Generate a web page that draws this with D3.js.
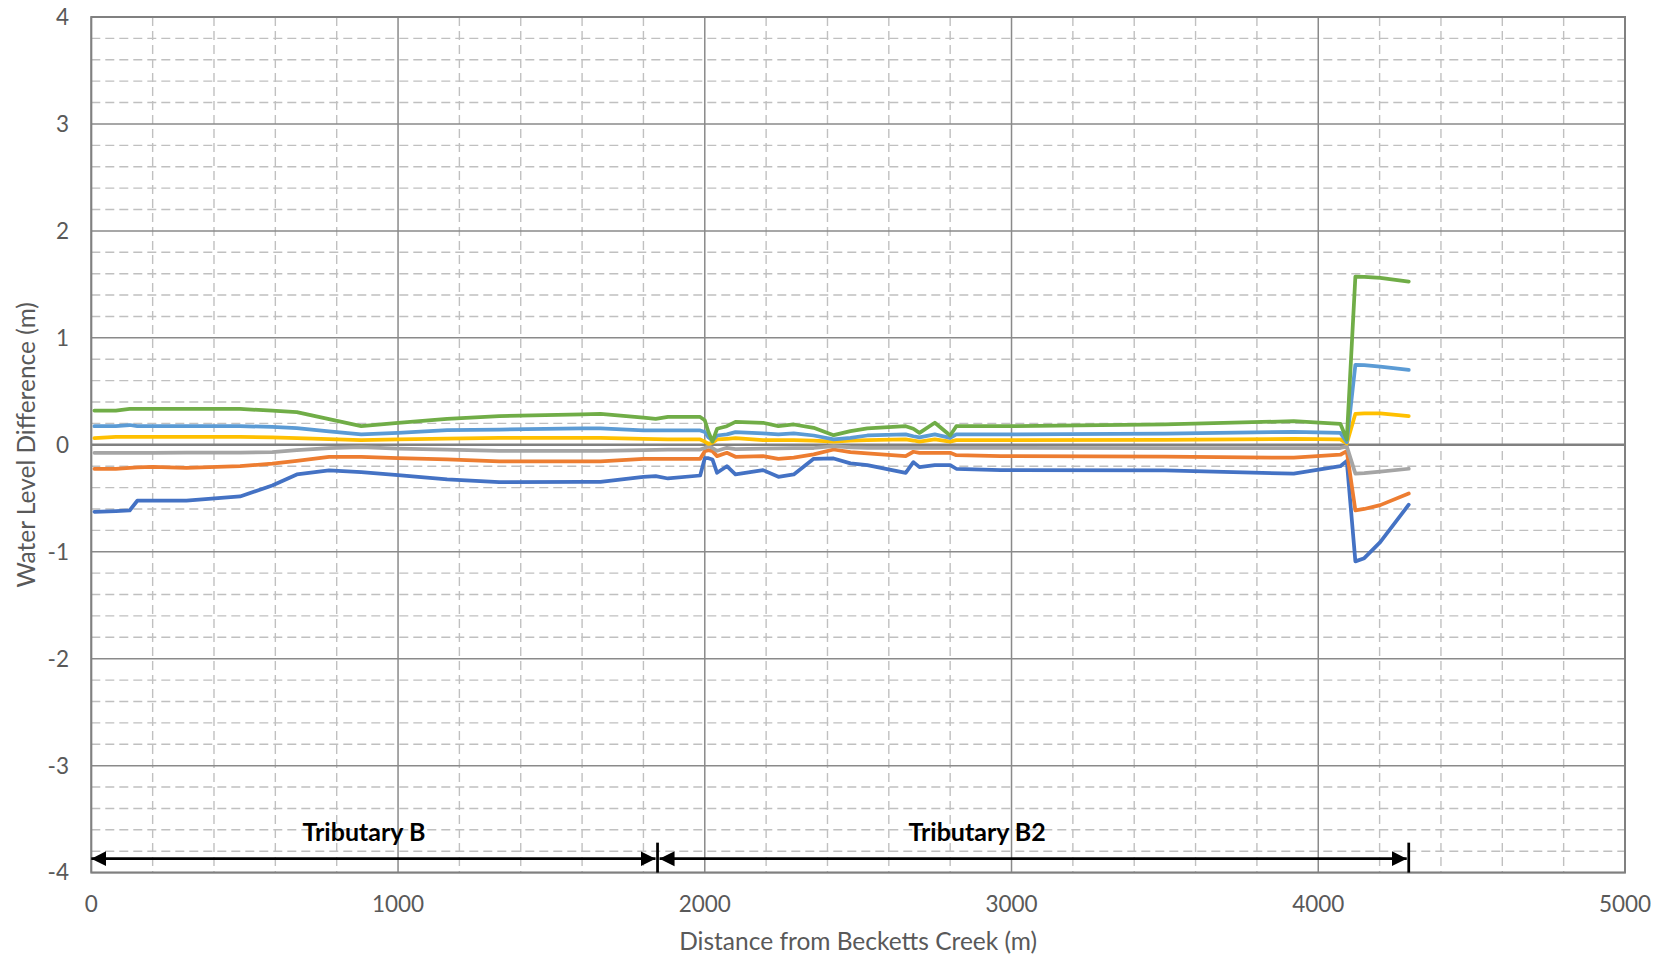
<!DOCTYPE html>
<html>
<head>
<meta charset="utf-8">
<script src="https://cdn.jsdelivr.net/npm/d3@7"></script>
<style>
  body { margin: 0; background: #fff; }
  svg { display: block; font-family: Lato, "Open Sans", sans-serif; }
  .tick-label { fill: #595959; font-size: 22.5px; }
  .axis-title { fill: #595959; font-size: 24.5px; }
  .trib-label { fill: #000; font-size: 25px; font-weight: bold; }
</style>
</head>
<body>
<svg id="chart" width="1663" height="959"></svg>
<script>
// distance along the creek (m), shared by all series
var distance = [10, 80, 125, 150, 200, 310, 485, 590, 670, 775, 880, 1000, 1160, 1330, 1600, 1660, 1800, 1840, 1880, 1985,
  2000, 2012, 2025, 2040, 2072, 2100, 2190, 2240, 2290, 2355, 2420, 2475, 2530, 2655, 2680, 2700, 2750, 2800, 2820, 2965,
  3500, 3920, 4072, 4093, 4121, 4150, 4202, 4295];

var greenVals = [0.32, 0.32, 0.335, 0.335, 0.335, 0.335, 0.335, 0.32, 0.305, 0.24, 0.175, 0.205, 0.243, 0.268, 0.285, 0.29, 0.255, 0.243, 0.262, 0.26,
  0.23, 0.12, 0.03, 0.15, 0.174, 0.215, 0.206, 0.174, 0.19, 0.159, 0.09, 0.128, 0.153, 0.174, 0.15, 0.112, 0.206, 0.087, 0.174, 0.174,
  0.19, 0.221, 0.196, 0.05, 1.573, 1.57, 1.56, 1.526];

var lightBlueVals = [0.174, 0.174, 0.185, 0.174, 0.174, 0.174, 0.174, 0.168, 0.156, 0.125, 0.097, 0.112, 0.137, 0.143, 0.153, 0.153, 0.136, 0.134, 0.134, 0.134,
  0.12, 0.07, 0.04, 0.087, 0.097, 0.118, 0.106, 0.097, 0.106, 0.087, 0.05, 0.065, 0.087, 0.097, 0.08, 0.069, 0.097, 0.065, 0.097, 0.097,
  0.105, 0.121, 0.112, 0.025, 0.748, 0.745, 0.73, 0.70];

var yellowVals = [0.062, 0.075, 0.075, 0.075, 0.075, 0.075, 0.075, 0.07, 0.062, 0.052, 0.044, 0.05, 0.058, 0.065, 0.065, 0.065, 0.055, 0.052, 0.05, 0.05,
  0.03, 0.009, 0.02, 0.05, 0.056, 0.062, 0.044, 0.044, 0.044, 0.04, 0.03, 0.04, 0.044, 0.05, 0.04, 0.03, 0.05, 0.03, 0.044, 0.044,
  0.045, 0.056, 0.05, 0.012, 0.29, 0.293, 0.293, 0.268];

var grayVals = [-0.075, -0.075, -0.075, -0.075, -0.075, -0.074, -0.072, -0.068, -0.05, -0.03, -0.022, -0.035, -0.045, -0.056, -0.056, -0.056, -0.05, -0.048, -0.046, -0.044,
  -0.03, -0.012, -0.03, -0.056, -0.028, -0.04, -0.035, -0.033, -0.032, -0.03, -0.012, -0.025, -0.028, -0.028, -0.028, -0.028, -0.028, -0.028, -0.028, -0.028,
  -0.03, -0.03, -0.03, -0.015, -0.27, -0.265, -0.25, -0.224];

var orangeVals = [-0.224, -0.224, -0.215, -0.21, -0.206, -0.215, -0.2, -0.175, -0.15, -0.112, -0.112, -0.125, -0.137, -0.156, -0.156, -0.156, -0.131, -0.131, -0.131, -0.131,
  -0.06, -0.05, -0.059, -0.106, -0.075, -0.112, -0.106, -0.131, -0.12, -0.09, -0.044, -0.069, -0.08, -0.106, -0.065, -0.075, -0.075, -0.075, -0.097, -0.106,
  -0.11, -0.121, -0.093, -0.06, -0.614, -0.6, -0.564, -0.455];

var blueVals = [-0.626, -0.62, -0.614, -0.523, -0.523, -0.523, -0.483, -0.38, -0.277, -0.24, -0.255, -0.283, -0.324, -0.349, -0.346, -0.346, -0.3, -0.293, -0.315, -0.287,
  -0.125, -0.125, -0.137, -0.262, -0.2, -0.277, -0.237, -0.299, -0.277, -0.131, -0.128, -0.174, -0.19, -0.262, -0.162, -0.209, -0.19, -0.19, -0.224, -0.237,
  -0.24, -0.27, -0.2, -0.15, -1.09, -1.06, -0.91, -0.56];

var seriesNames = ["blue", "orange", "gray", "yellow", "lightBlue", "green"];
var seriesColors = ["#4472C4", "#ED7D31", "#A5A5A5", "#FFC000", "#5B9BD5", "#70AD47"];
var seriesValues = [blueVals, orangeVals, grayVals, yellowVals, lightBlueVals, greenVals];

var xTicks = [0, 1000, 2000, 3000, 4000, 5000];
var yTicks = [-4, -3, -2, -1, 0, 1, 2, 3, 4];

// reach annotations along the bottom
var reachNames = ["Tributary B", "Tributary B2"];
var reachStart = [0, 1846];
var reachEnd = [1846, 4295];
var reachLabelAt = [889, 2888];

var svg = d3.select("#chart");
// note: "top" is taken by window.top, so use plot* names
var plotLeft = 91.3, plotRight = 1625, plotTop = 17, plotBottom = 872.6;

var x = d3.scaleLinear().domain([0, 5000]).range([plotLeft, plotRight]);
var y = d3.scaleLinear().domain([-4, 4]).range([plotBottom, plotTop]);

var grid = svg.append("g");

// minor gridlines (dashed)
grid.selectAll("line.vminor")
  .data(d3.range(200, 5000, 200).filter(function(d) { return d % 1000 !== 0; }))
  .enter().append("line")
    .attr("x1", function(d) { return x(d); })
    .attr("x2", function(d) { return x(d); })
    .attr("y1", plotTop).attr("y2", plotBottom)
    .attr("stroke", "#c0c0c0")
    .attr("stroke-width", 1.4)
    .attr("stroke-dasharray", "9,5");

grid.selectAll("line.hminor")
  .data(d3.range(-40, 40, 2).map(function(d) { return d / 10; }).filter(function(d) { return Math.abs(d - Math.round(d)) > 1e-6; }))
  .enter().append("line")
    .attr("x1", plotLeft).attr("x2", plotRight)
    .attr("y1", function(d) { return y(d); })
    .attr("y2", function(d) { return y(d); })
    .attr("stroke", "#c0c0c0")
    .attr("stroke-width", 1.4)
    .attr("stroke-dasharray", "9,5");

// major gridlines
grid.selectAll("line.vmajor")
  .data(xTicks)
  .enter().append("line")
    .attr("x1", function(d) { return x(d); })
    .attr("x2", function(d) { return x(d); })
    .attr("y1", plotTop).attr("y2", plotBottom)
    .attr("stroke", "#8a8a8a")
    .attr("stroke-width", 1.5);

grid.selectAll("line.hmajor")
  .data(yTicks)
  .enter().append("line")
    .attr("x1", plotLeft).attr("x2", plotRight)
    .attr("y1", function(d) { return y(d); })
    .attr("y2", function(d) { return y(d); })
    .attr("stroke", "#8a8a8a")
    .attr("stroke-width", 1.5);

// plot border + horizontal axis at zero
svg.append("rect")
  .attr("x", plotLeft).attr("y", plotTop)
  .attr("width", plotRight - plotLeft).attr("height", plotBottom - plotTop)
  .attr("fill", "none")
  .attr("stroke", "#808080")
  .attr("stroke-width", 2);

svg.append("line")
  .attr("x1", plotLeft).attr("x2", plotRight)
  .attr("y1", y(0)).attr("y2", y(0))
  .attr("stroke", "#808080")
  .attr("stroke-width", 2.5);

// tick labels
svg.selectAll("text.xtick")
  .data(xTicks)
  .enter().append("text")
    .attr("class", "tick-label")
    .attr("x", function(d) { return x(d); })
    .attr("y", 912)
    .attr("text-anchor", "middle")
    .text(function(d) { return d; });

svg.selectAll("text.ytick")
  .data(yTicks)
  .enter().append("text")
    .attr("class", "tick-label")
    .attr("x", 69)
    .attr("y", function(d) { return y(d); })
    .attr("dy", "0.35em")
    .attr("text-anchor", "end")
    .text(function(d) { return d; });

// axis titles
svg.append("text")
  .attr("class", "axis-title")
  .attr("x", (plotLeft + plotRight) / 2)
  .attr("y", 950)
  .attr("text-anchor", "middle")
  .text("Distance from Becketts Creek (m)");

svg.append("text")
  .attr("class", "axis-title")
  .attr("transform", "translate(35," + ((plotTop + plotBottom) / 2) + ") rotate(-90)")
  .attr("text-anchor", "middle")
  .text("Water Level Difference (m)");

// series lines
var line = d3.line()
  .x(function(d) { return x(d[0]); })
  .y(function(d) { return y(d[1]); });

svg.append("g").selectAll("path")
  .data(seriesValues)
  .enter().append("path")
    .attr("class", function(d, i) { return "series " + seriesNames[i]; })
    .attr("fill", "none")
    .attr("stroke", function(d, i) { return seriesColors[i]; })
    .attr("stroke-width", 3.75)
    .attr("stroke-linejoin", "round")
    .attr("stroke-linecap", "round")
    .attr("d", function(vals) { return line(d3.zip(distance, vals)); });

// reach arrows
var defs = svg.append("defs");
defs.append("marker")
  .attr("id", "arrowhead")
  .attr("viewBox", "0 0 10 10")
  .attr("refX", 10).attr("refY", 5)
  .attr("markerWidth", 15).attr("markerHeight", 17)
  .attr("markerUnits", "userSpaceOnUse")
  .attr("orient", "auto-start-reverse")
  .append("path")
    .attr("d", "M0,0 L10,5 L0,10 Z")
    .attr("fill", "#000");

var arrowY = y(-3.87);
var reaches = svg.append("g");

reaches.selectAll("line.reach")
  .data(reachNames)
  .enter().append("line")
    .attr("x1", function(d, i) { return x(reachStart[i]) + (i === 0 ? 0 : 2); })
    .attr("x2", function(d, i) { return x(reachEnd[i]) - 2; })
    .attr("y1", arrowY).attr("y2", arrowY)
    .attr("stroke", "#000")
    .attr("stroke-width", 2.75)
    .attr("marker-start", "url(#arrowhead)")
    .attr("marker-end", "url(#arrowhead)");

reaches.selectAll("line.bar")
  .data(reachEnd)
  .enter().append("line")
    .attr("x1", function(d) { return x(d); })
    .attr("x2", function(d) { return x(d); })
    .attr("y1", y(-3.72)).attr("y2", plotBottom)
    .attr("stroke", "#000")
    .attr("stroke-width", 2.75);

reaches.selectAll("text")
  .data(reachNames)
  .enter().append("text")
    .attr("class", "trib-label")
    .attr("x", function(d, i) { return x(reachLabelAt[i]); })
    .attr("y", y(-3.7))
    .attr("text-anchor", "middle")
    .text(function(d) { return d; });
</script>
</body>
</html>
